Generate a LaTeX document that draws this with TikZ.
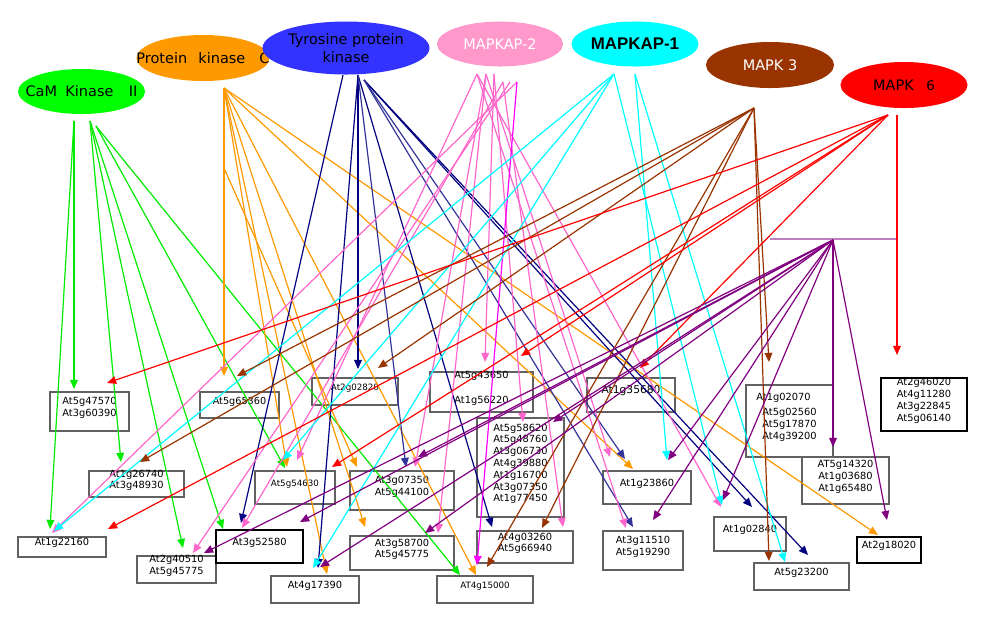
\documentclass[tikz,border=0pt]{standalone}
\usepackage{fontspec}
\setmainfont{DejaVu Sans}
\newfontfamily\arialb{Liberation Sans}
\usetikzlibrary{shapes.geometric,arrows.meta,fit}
\definecolor{cG}{RGB}{0,235,0}
\definecolor{cGf}{RGB}{0,255,0}
\definecolor{cO}{RGB}{255,153,0}
\definecolor{cN}{RGB}{0,0,128}
\definecolor{cS}{RGB}{51,51,153}
\definecolor{cT}{RGB}{51,51,255}
\definecolor{cPf}{RGB}{255,153,204}
\definecolor{cP}{RGB}{255,102,204}
\definecolor{cM}{RGB}{255,0,255}
\definecolor{cC}{RGB}{0,255,255}
\definecolor{cB}{RGB}{153,51,0}
\definecolor{cR}{RGB}{255,0,0}
\definecolor{cU}{RGB}{128,0,128}
\definecolor{cUl}{RGB}{191,128,191}
\begin{document}
\begin{tikzpicture}[x=0.025cm,y=-0.025cm,
  bx/.style={draw=black!62, line width=0.9pt, inner sep=0pt, align=center,
    font=\fontsize{7}{8.4}\selectfont},
  ell/.style={ellipse, draw=none, inner sep=0pt},
  etext/.style={font=\fontsize{10.3}{12.5}\selectfont, align=center},
  ln/.style={line width=0.85pt, -{Triangle[length=6.5pt,width=5.5pt]}}]
\useasboundingbox (0,0) rectangle (994,634);

% ---- source ellipses
\node[ell, fill=cGf, minimum width=3.175cm, minimum height=1.125cm,
  label={[etext]center:CaM\hspace{6pt}Kinase\hspace{11pt}II}] (cam) at (81.5,91.5) {};
\node[ell, fill=cO, minimum width=3.325cm, minimum height=1.15cm,
  label={[etext]center:Protein\hspace{8pt}kinase\hspace{10pt}C}] (pkc) at (203,58) {};
\node[ell, fill=cT, minimum width=4.175cm, minimum height=1.325cm,
  label={[etext]center:Tyrosine protein\\kinase}] (tpk) at (346,48) {};
\node[ell, fill=cPf, minimum width=3.15cm, minimum height=1.125cm,
  label={[etext, text=white]center:MAPKAP-2}] (mk2) at (500,44) {};
\node[ell, fill=cC, minimum width=3.175cm, minimum height=1.125cm,
  label={[font=\arialb\bfseries\fontsize{12}{14}\selectfont]center:MAPKAP-1}] (mk1) at (635,44) {};
\node[ell, fill=cB, minimum width=3.2cm, minimum height=1.15cm,
  label={[etext, text=white]center:MAPK 3}] (mk3e) at (770,65) {};
\node[ell, fill=cR, minimum width=3.175cm, minimum height=1.15cm,
  label={[etext]center:MAPK\hspace{9pt}{\fontsize{9.5}{11}\selectfont 6}}] (mk6) at (904,85) {};

% ---- target boxes
\node[bx, fit={(50,392) (129,431)}] (b01) {At5g47570\\At3g60390};
\node[bx, fit={(200,392) (279,418)}, font=\fontsize{6.9}{8}\selectfont] (b02) {At5g65360};
\node[bx, fit={(312,378) (398,405)}, font=\fontsize{6.2}{7.5}\selectfont] (b03) {At2g02820};
\node[bx, fit={(430,372) (533,412)}] (b04) {At5g43650\\[9pt]At1g56220};
\node[bx, fit={(587,378) (675,412)}, font=\fontsize{7.6}{9}\selectfont] (b05) {At1g35680};
\node[bx, fit={(746,385) (833,457)}] (b06) {At1g02070\rule{0.3cm}{0pt}\\[2pt]At5g02560\\At5g17870\\At4g39200};
\node[bx, fit={(881,378) (967,431)}, draw=black] (b07) {At2g46020\\At4g11280\\At3g22845\\At5g06140};
\node[bx, fit={(89,471) (184,497)}] (b08) {At1g26740\\At3g48930};
\node[bx, fit={(255,471) (335,504)}, font=\fontsize{6.2}{7.5}\selectfont] (b09) {At5g54630};
\node[bx, fit={(350,471) (454,510)}] (b10) {At3g07350\\At5g44100};
\node[bx, fit={(477,418) (564,517)}] (b11) {At5g58620\\At5g48760\\At3g06730\\At4g39880\\At1g16700\\At3g07350\\At1g77450};
\node[bx, fit={(603,471) (691,504)}] (b12) {At1g23860};
\node[bx, fit={(802,457) (889,504)}] (b13) {AT5g14320\\At1g03680\\At1g65480};
\node[bx, fit={(18,537) (106,557)}] (b14) {At1g22160};
\node[bx, fit={(137,556) (216,583)}] (b15) {At2g40510\\At5g45775};
\node[bx, fit={(216,530) (303,563)}, draw=black] (b16) {At3g52580};
\node[bx, fit={(271,576) (359,603)}] (b17) {\rule{0pt}{10pt}At4g17390};
\node[bx, fit={(350,536) (454,570)}] (b18) {At3g58700\\At5g45775};
\node[bx, fit={(437,576) (533,603)}, font=\fontsize{6.2}{7.5}\selectfont] (b19) {\rule{0pt}{9pt}AT4g15000};
\node[bx, fit={(477,531) (573,563)}] (b20) {At4g03260\\At5g66940};
\node[bx, fit={(603,531) (683,570)}] (b21) {At3g11510\\At5g19290};
\node[bx, fit={(714,517) (786,551)}] (b22) {At1g02840};
\node[bx, fit={(754,563) (849,590)}] (b23) {At5g23200};
\node[bx, fit={(857,537) (921,563)}, draw=black] (b24) {At2g18020};

% ---- line start points
\coordinate (cam1) at (74,121);  \coordinate (cam2) at (90,121); \coordinate (cam3) at (96,126);
\coordinate (pkc1) at (224,88);  \coordinate (pkc2) at (224,168);
\coordinate (tpk1) at (343,75);  \coordinate (tpk2) at (358,75); \coordinate (tpk3) at (364,80);
\coordinate (mk2a) at (477,74);  \coordinate (mk2b) at (486,74); \coordinate (mk2c) at (494,74);
\coordinate (mk2e) at (503,82);  \coordinate (mk2f) at (510,82); \coordinate (mk2d) at (517,82);
\coordinate (mk1a) at (614,74);  \coordinate (mk1b) at (635,74);
\coordinate (mk3) at (754,108);
\coordinate (mk6a) at (888,115); \coordinate (mk6b) at (897,115);
\coordinate (pur) at (833,240);
\coordinate (brL) at (770,239);  \coordinate (brR) at (897,239);
\draw[cUl, line width=0.9pt] (brL) -- (brR);

% ---- connectors
\foreach \s/\t/\x/\y in {cam1/g1/74/389, cam1/g2/50/529, cam2/g3/121/462, cam2/g4/183/548,
  cam2/g5/223/529, cam3/g6/285/468, cam3/g7/460/575}
  {\coordinate (\t) at (\x,\y); \draw[ln, draw=cG] (\s) -- (\t);}
\foreach \s/\t/\x/\y in {pkc1/o1/224/376, pkc1/o2/287/467, pkc2/o3/357/467, pkc1/o4/327/574,
  pkc1/o5/365/527, pkc1/o6/476/575, pkc1/o7/633/469, pkc1/o8/878/535}
  {\coordinate (\t) at (\x,\y); \draw[ln, draw=cO] (\s) -- (\t);}
\foreach \s/\t/\x/\y in {tpk1/n1/241/523, tpk2/n2/358/369, tpk2/n3/318/568, tpk2/n4/492/527,
  tpk3/n5/752/507, tpk3/n6/808/555}
  {\coordinate (\t) at (\x,\y); \draw[ln, draw=cN] (\s) -- (\t);}
\foreach \s/\t/\x/\y in {tpk2/s1/406/467, tpk3/s2/625/459, tpk3/s3/633/527}
  {\coordinate (\t) at (\x,\y); \draw[ln, draw=cS] (\s) -- (\t);}
\foreach \s/\t/\x/\y in {mk2d/p1/52/533, mk2f/p2/193/553, mk2e/p3/242/528, mk2a/p4/297/460,
  mk2b/p5/415/467, mk2c/p6/485/362, mk2c/p7/523/422, mk2b/p8/438/533, mk2e/p9/563/527,
  mk2a/p10/626/528, mk2b/p11/610/457, mk2a/p12/721/507}
  {\coordinate (\t) at (\x,\y); \draw[ln, draw=cP] (\s) -- (\t);}
\coordinate (m1) at (477,565); \draw[ln, draw=cM] (mk2d) -- (m1);
\foreach \s/\t/\x/\y in {mk1a/c1/54/531, mk1a/c2/283/460, mk1a/c3/313/568, mk1b/c4/667/460,
  mk1a/c5/722/505, mk1b/c6/785/562}
  {\coordinate (\t) at (\x,\y); \draw[ln, draw=cC] (\s) -- (\t);}
\foreach \s/\t/\x/\y in {mk3/w1/140/462, mk3/w2/237/376, mk3/w3/378/368, mk3/w4/542/528,
  mk3/w5/487/567, mk3/w6/769/561, mk3/w7/769/362}
  {\coordinate (\t) at (\x,\y); \draw[ln, draw=cB] (\s) -- (\t);}
\foreach \s/\t/\x/\y in {mk6a/r1/107/383, mk6a/r2/108/529, mk6a/r3/332/467, mk6a/r4/521/356,
  mk6a/r5/640/368, mk6b/r6/897/355}
  {\coordinate (\t) at (\x,\y); \draw[ln, draw=cR] (\s) -- (\t);}
\foreach \s/\t/\x/\y in {pur/u1/204/553, pur/u2/300/522, pur/u3/320/567, pur/u4/418/457,
  pur/u5/425/533, pur/u6/553/422, pur/u7/653/520, pur/u8/668/460, pur/u9/723/500,
  pur/u10/833/447, pur/u11/887/520}
  {\coordinate (\t) at (\x,\y); \draw[ln, draw=cU] (\s) -- (\t);}
\end{tikzpicture}
\end{document}
